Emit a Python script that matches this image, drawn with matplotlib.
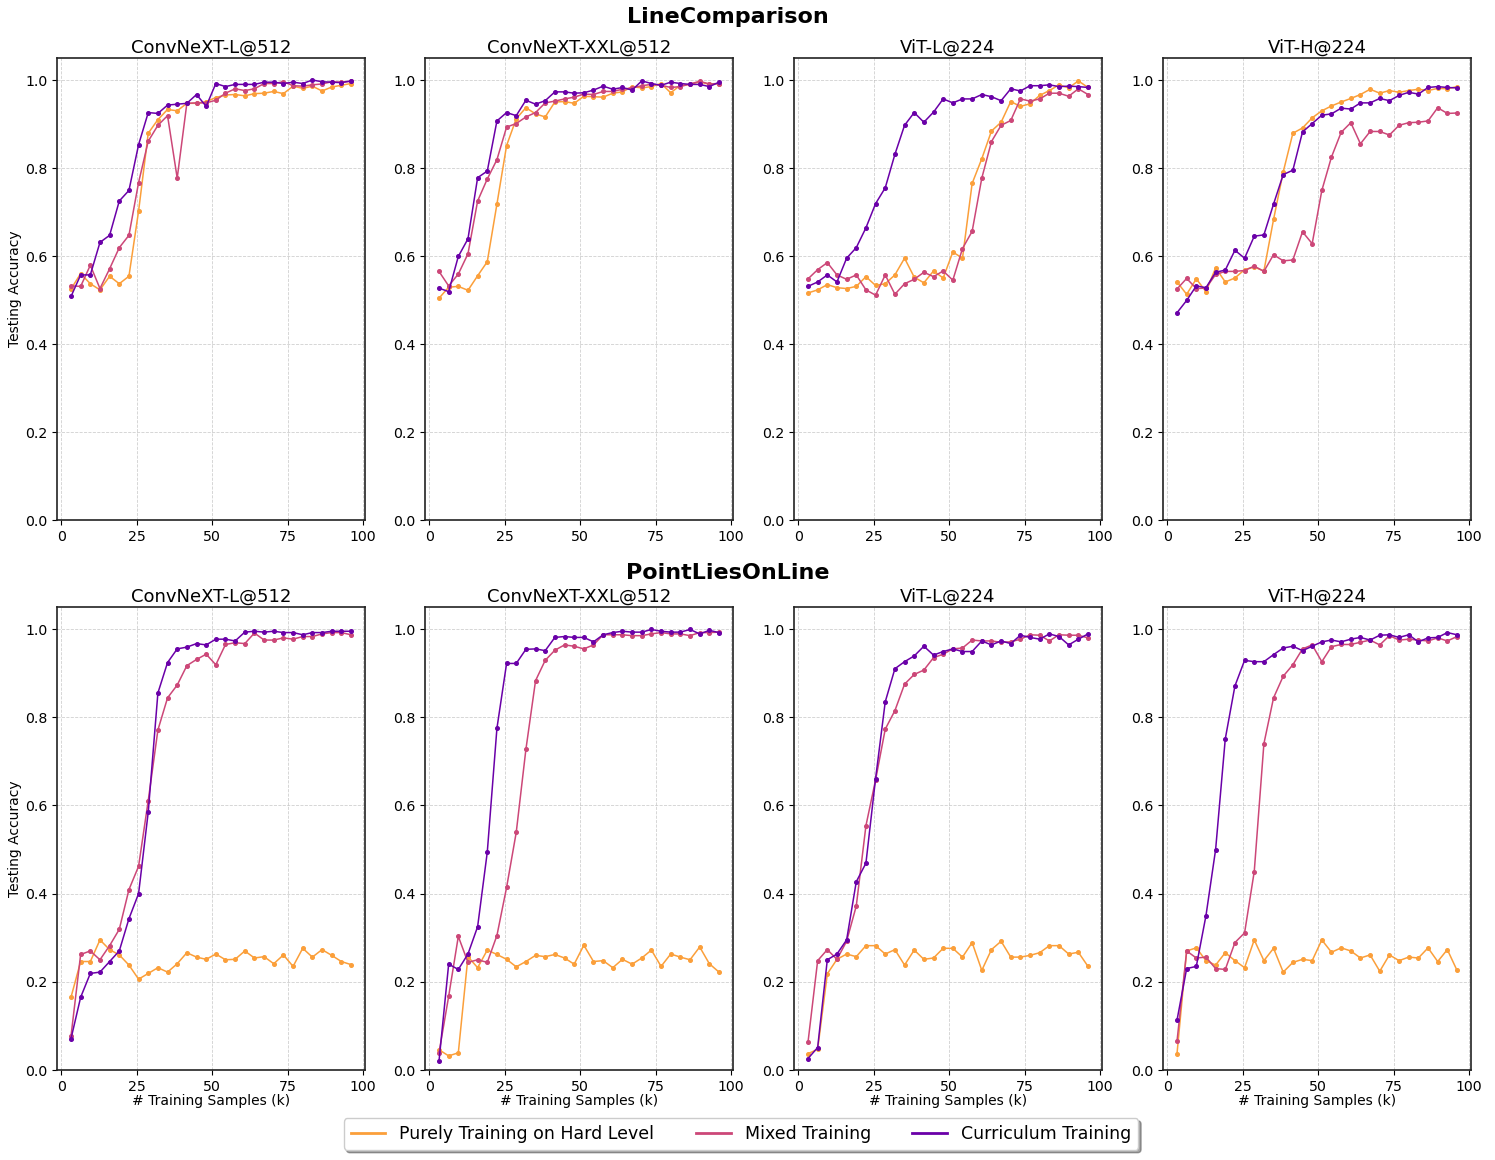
import numpy as np
import matplotlib
matplotlib.use("Agg")
import matplotlib.pyplot as plt
from matplotlib.lines import Line2D

# ---------------- data ----------------
samples_k = [round(3.2 * i, 1) for i in range(1, 31)]

models = ["ConvNeXT-L@512", "ConvNeXT-XXL@512", "ViT-L@224", "ViT-H@224"]
tasks = ["LineComparison", "PointLiesOnLine"]
series_names = ["Purely Training on Hard Level", "Mixed Training", "Curriculum Training"]

# LineComparison
lc_convl_hard = [0.525, 0.560, 0.537, 0.523, 0.554, 0.537, 0.554, 0.702, 0.879, 0.910, 0.933, 0.930, 0.947, 0.947, 0.951,
                 0.960, 0.966, 0.967, 0.964, 0.969, 0.970, 0.974, 0.969, 0.986, 0.981, 0.986, 0.975, 0.984, 0.988, 0.992]
lc_convl_mixed = [0.532, 0.531, 0.579, 0.526, 0.571, 0.619, 0.647, 0.767, 0.861, 0.897, 0.919, 0.777, 0.947, 0.948, 0.948,
                  0.954, 0.970, 0.980, 0.976, 0.980, 0.992, 0.992, 0.996, 0.987, 0.986, 0.989, 0.991, 0.996, 0.995, 0.997]
lc_convl_curr = [0.508, 0.557, 0.557, 0.631, 0.647, 0.725, 0.749, 0.853, 0.926, 0.924, 0.943, 0.945, 0.947, 0.967, 0.940,
                 0.992, 0.985, 0.990, 0.990, 0.990, 0.995, 0.995, 0.992, 0.995, 0.992, 1.000, 0.996, 0.995, 0.994, 0.998]

lc_convxxl_hard = [0.504, 0.529, 0.531, 0.522, 0.555, 0.587, 0.718, 0.851, 0.912, 0.937, 0.923, 0.916, 0.950, 0.951, 0.947,
                   0.963, 0.962, 0.961, 0.970, 0.973, 0.985, 0.982, 0.985, 0.992, 0.971, 0.988, 0.990, 0.996, 0.990, 0.992]
lc_convxxl_mixed = [0.565, 0.532, 0.559, 0.605, 0.725, 0.775, 0.819, 0.893, 0.901, 0.916, 0.926, 0.948, 0.952, 0.957, 0.961,
                    0.968, 0.967, 0.974, 0.974, 0.979, 0.982, 0.987, 0.990, 0.988, 0.983, 0.985, 0.991, 0.997, 0.991, 0.992]
lc_convxxl_curr = [0.527, 0.519, 0.599, 0.639, 0.778, 0.793, 0.907, 0.926, 0.919, 0.954, 0.945, 0.953, 0.973, 0.973, 0.970,
                   0.971, 0.977, 0.986, 0.979, 0.983, 0.977, 0.998, 0.992, 0.988, 0.995, 0.992, 0.990, 0.990, 0.985, 0.995]

lc_vitl_hard = [0.516, 0.523, 0.535, 0.528, 0.526, 0.531, 0.553, 0.533, 0.537, 0.557, 0.595, 0.552, 0.539, 0.566, 0.550,
                0.609, 0.595, 0.765, 0.821, 0.884, 0.904, 0.951, 0.940, 0.946, 0.965, 0.976, 0.989, 0.982, 0.998, 0.983]
lc_vitl_mixed = [0.548, 0.569, 0.585, 0.557, 0.547, 0.557, 0.523, 0.511, 0.557, 0.513, 0.537, 0.547, 0.563, 0.553, 0.566,
                 0.545, 0.617, 0.656, 0.777, 0.860, 0.897, 0.908, 0.957, 0.952, 0.957, 0.970, 0.970, 0.963, 0.980, 0.967]
lc_vitl_curr = [0.531, 0.541, 0.557, 0.541, 0.595, 0.619, 0.664, 0.719, 0.755, 0.831, 0.897, 0.926, 0.904, 0.927, 0.957,
                0.948, 0.957, 0.957, 0.967, 0.962, 0.953, 0.980, 0.975, 0.987, 0.987, 0.989, 0.985, 0.986, 0.985, 0.983]

lc_vith_hard = [0.541, 0.513, 0.548, 0.519, 0.573, 0.541, 0.550, 0.569, 0.575, 0.566, 0.683, 0.791, 0.879, 0.891, 0.914,
                0.930, 0.941, 0.950, 0.958, 0.967, 0.979, 0.970, 0.976, 0.972, 0.976, 0.979, 0.976, 0.981, 0.980, 0.985]
lc_vith_mixed = [0.525, 0.549, 0.526, 0.527, 0.558, 0.565, 0.565, 0.567, 0.577, 0.565, 0.603, 0.589, 0.591, 0.655, 0.628,
                 0.749, 0.825, 0.881, 0.903, 0.855, 0.883, 0.883, 0.875, 0.897, 0.903, 0.904, 0.907, 0.937, 0.924, 0.925]
lc_vith_curr = [0.471, 0.499, 0.532, 0.528, 0.563, 0.568, 0.613, 0.595, 0.645, 0.648, 0.718, 0.785, 0.795, 0.882, 0.901,
                0.920, 0.923, 0.936, 0.934, 0.948, 0.948, 0.958, 0.953, 0.965, 0.972, 0.968, 0.983, 0.985, 0.983, 0.982]

# PointLiesOnLine
pl_convl_hard = [0.165, 0.246, 0.246, 0.295, 0.273, 0.261, 0.238, 0.206, 0.219, 0.232, 0.222, 0.241, 0.266, 0.256, 0.251,
                 0.263, 0.250, 0.251, 0.270, 0.254, 0.257, 0.241, 0.261, 0.235, 0.276, 0.256, 0.273, 0.260, 0.246, 0.239]
pl_convl_mixed = [0.077, 0.262, 0.270, 0.250, 0.282, 0.319, 0.409, 0.462, 0.611, 0.771, 0.844, 0.873, 0.917, 0.931, 0.943,
                  0.919, 0.965, 0.969, 0.967, 0.991, 0.975, 0.975, 0.980, 0.977, 0.983, 0.983, 0.989, 0.992, 0.992, 0.987]
pl_convl_curr = [0.071, 0.165, 0.219, 0.222, 0.246, 0.270, 0.343, 0.400, 0.585, 0.855, 0.924, 0.955, 0.959, 0.967, 0.964,
                 0.977, 0.977, 0.973, 0.993, 0.995, 0.993, 0.995, 0.992, 0.992, 0.987, 0.992, 0.992, 0.995, 0.995, 0.995]

pl_convxxl_hard = [0.046, 0.032, 0.039, 0.257, 0.232, 0.272, 0.262, 0.251, 0.234, 0.246, 0.260, 0.257, 0.262, 0.254, 0.240,
                   0.283, 0.246, 0.248, 0.232, 0.251, 0.240, 0.254, 0.272, 0.235, 0.263, 0.256, 0.250, 0.279, 0.241, 0.222]
pl_convxxl_mixed = [0.039, 0.167, 0.303, 0.244, 0.250, 0.244, 0.305, 0.414, 0.539, 0.727, 0.883, 0.929, 0.952, 0.964, 0.961,
                    0.955, 0.964, 0.987, 0.987, 0.987, 0.985, 0.985, 0.989, 0.992, 0.989, 0.989, 0.985, 0.992, 0.992, 0.993]
pl_convxxl_curr = [0.020, 0.240, 0.228, 0.263, 0.325, 0.494, 0.775, 0.922, 0.922, 0.954, 0.955, 0.951, 0.981, 0.983, 0.981,
                   0.981, 0.971, 0.987, 0.992, 0.995, 0.993, 0.993, 0.999, 0.995, 0.993, 0.993, 0.999, 0.989, 0.997, 0.992]

pl_vitl_hard = [0.037, 0.047, 0.218, 0.251, 0.263, 0.257, 0.282, 0.282, 0.263, 0.273, 0.238, 0.272, 0.251, 0.254, 0.276,
                0.276, 0.256, 0.289, 0.226, 0.273, 0.292, 0.256, 0.256, 0.260, 0.266, 0.282, 0.282, 0.263, 0.267, 0.235]
pl_vitl_mixed = [0.063, 0.248, 0.273, 0.251, 0.292, 0.372, 0.554, 0.658, 0.773, 0.815, 0.875, 0.897, 0.907, 0.935, 0.943,
                 0.955, 0.957, 0.975, 0.973, 0.973, 0.970, 0.971, 0.977, 0.987, 0.986, 0.973, 0.987, 0.986, 0.986, 0.980]
pl_vitl_curr = [0.026, 0.051, 0.250, 0.263, 0.295, 0.427, 0.469, 0.661, 0.835, 0.910, 0.926, 0.939, 0.961, 0.941, 0.949,
                0.955, 0.949, 0.949, 0.973, 0.964, 0.973, 0.967, 0.986, 0.981, 0.977, 0.989, 0.983, 0.964, 0.977, 0.989]

pl_vith_hard = [0.037, 0.270, 0.277, 0.248, 0.238, 0.266, 0.248, 0.232, 0.295, 0.248, 0.276, 0.222, 0.244, 0.251, 0.248,
                0.295, 0.267, 0.277, 0.270, 0.254, 0.261, 0.224, 0.261, 0.248, 0.256, 0.254, 0.277, 0.246, 0.273, 0.226]
pl_vith_mixed = [0.065, 0.270, 0.254, 0.256, 0.230, 0.228, 0.289, 0.311, 0.450, 0.740, 0.844, 0.893, 0.919, 0.955, 0.964,
                 0.926, 0.960, 0.965, 0.965, 0.970, 0.975, 0.964, 0.985, 0.975, 0.977, 0.975, 0.973, 0.980, 0.973, 0.983]
pl_vith_curr = [0.113, 0.230, 0.235, 0.350, 0.500, 0.751, 0.871, 0.929, 0.926, 0.926, 0.942, 0.957, 0.961, 0.951, 0.961,
                0.971, 0.975, 0.971, 0.977, 0.981, 0.975, 0.986, 0.987, 0.981, 0.987, 0.971, 0.980, 0.981, 0.992, 0.987]

panels = [
    [(lc_convl_hard, lc_convl_mixed, lc_convl_curr),
     (lc_convxxl_hard, lc_convxxl_mixed, lc_convxxl_curr),
     (lc_vitl_hard, lc_vitl_mixed, lc_vitl_curr),
     (lc_vith_hard, lc_vith_mixed, lc_vith_curr)],
    [(pl_convl_hard, pl_convl_mixed, pl_convl_curr),
     (pl_convxxl_hard, pl_convxxl_mixed, pl_convxxl_curr),
     (pl_vitl_hard, pl_vitl_mixed, pl_vitl_curr),
     (pl_vith_hard, pl_vith_mixed, pl_vith_curr)],
]

colors = ["#fb9f3a", "#cc4778", "#6a00a8"]

# ---------------- figure ----------------
W, H = 1495, 1160
fig = plt.figure(figsize=(W / 100, H / 100), dpi=100)

col_lefts = [57, 425, 794, 1163]
ax_w = 308
row_tops = [58, 607]
ax_h = [462, 463]

def px_axes(left, top, w, h):
    return fig.add_axes([left / W, 1 - (top + h) / H, w / W, h / H])

for r in range(2):
    for c in range(4):
        ax = px_axes(col_lefts[c], row_tops[r], ax_w, ax_h[r])
        for s in range(3):
            ax.plot(samples_k, panels[r][c][s], color=colors[s], lw=1.1,
                    marker="o", markersize=2.6, label=series_names[s])
        ax.set_ylim(0, 1.05)
        ax.set_xticks([0, 25, 50, 75, 100])
        ax.set_yticks([0.0, 0.2, 0.4, 0.6, 0.8, 1.0])
        ax.grid(True, linestyle="--", linewidth=0.6, color="#b0b0b0", alpha=0.6)
        ax.tick_params(labelsize=10.2)
        for sp in ax.spines.values():
            sp.set_linewidth(1.2)
            sp.set_color("#222222")
        ax.set_title(models[c], fontsize=13, pad=4)
        if c == 0:
            ax.set_ylabel("Testing Accuracy", fontsize=10, labelpad=2)
        if r == 1:
            ax.set_xlabel("# Training Samples (k)", fontsize=10, labelpad=0)

fig.text(728 / W, 1 - 17 / H, tasks[0], ha="center", va="center",
         fontsize=16, fontweight="bold")
fig.text(728 / W, 1 - 573 / H, tasks[1], ha="center", va="center",
         fontsize=16, fontweight="bold")

handles = [Line2D([0], [0], color=colors[s], lw=2) for s in range(3)]
fig.legend(handles, series_names, loc="center", bbox_to_anchor=(741 / W, 1 - 1134 / H),
           ncol=3, fontsize=12.5, shadow=True, frameon=True, columnspacing=2.4)

fig.savefig("out.png", dpi=100)
